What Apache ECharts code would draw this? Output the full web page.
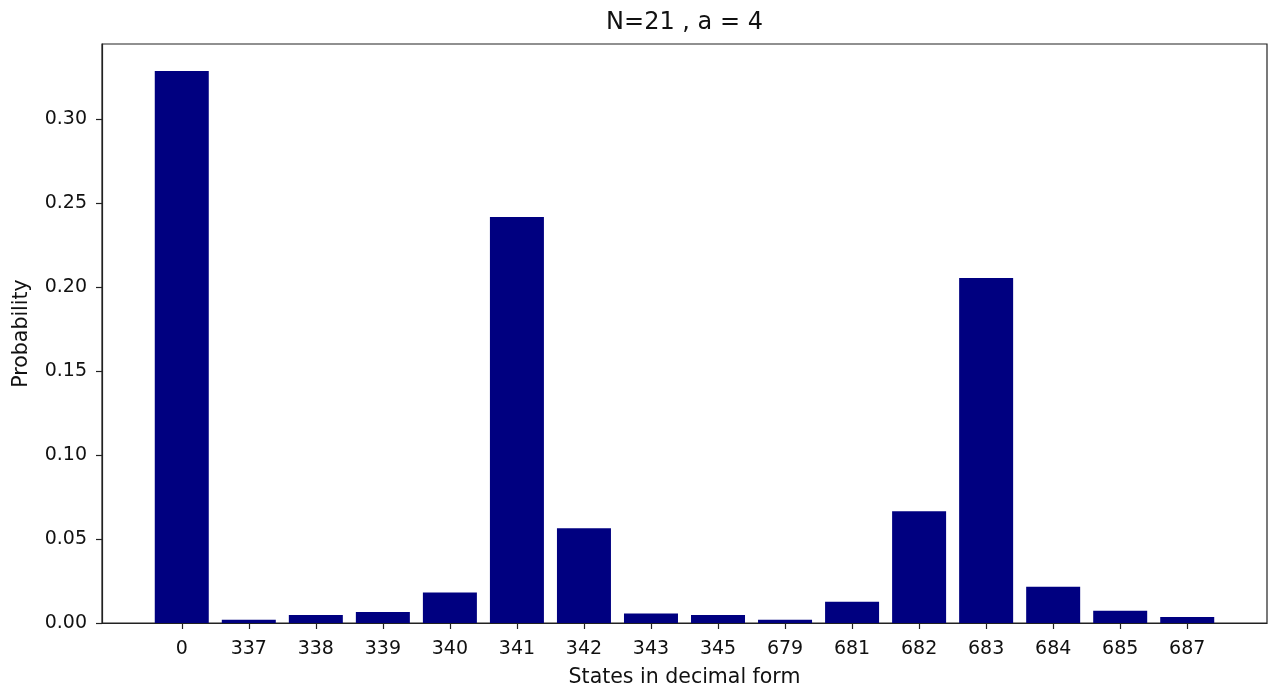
<!DOCTYPE html>
<html>
<head>
<meta charset="utf-8">
<script src="https://cdn.jsdelivr.net/npm/echarts@6/dist/echarts.min.js"></script>
<style>
html,body{margin:0;padding:0;background:#fff;}
#chart{width:1272px;height:695px;}
</style>
</head>
<body>
<div id="chart"></div>
<script>
const states = ['0','337','338','339','340','341','342','343','345','679','681','682','683','684','685','687'];
const probabilities = [0.3288,0.0020,0.0048,0.0066,0.0181,0.2419,0.0564,0.0056,0.0048,0.0020,0.0127,0.0665,0.2055,0.0216,0.0073,0.0036];
const yTicks = [0,0.05,0.10,0.15,0.20,0.25,0.30];
const titleText = 'N=21 , a = 4';
const xLabel = 'States in decimal form';
const yLabel = 'Probability';

const n = states.length;
const xPad = 0.05 * ((n - 1 + 0.4) - (-0.4));
const xMin = -0.4 - xPad, xMax = n - 1 + 0.4 + xPad;
const yMax = 0.3288 * 1.049;
const idx = states.map((s, i) => i);
const font = 'DejaVu Sans';
const chart = echarts.init(document.getElementById('chart'));
chart.setOption({
  animation: false,
  backgroundColor: '#fff',
  textStyle: {fontFamily: font},
  graphic: [{
    type: 'text', x: 684.5, y: 23,
    style: {text: titleText, font: '24px "DejaVu Sans"', fill: '#111', textAlign: 'center', textVerticalAlign: 'middle'}
  }],
  grid: {left: 102, right: 5, top: 44, bottom: 72, show: true, borderColor: '#222', borderWidth: 1.2, backgroundColor: 'transparent'},
  xAxis: {
    type: 'value', min: xMin, max: xMax,
    name: xLabel, nameLocation: 'middle', nameGap: 44,
    nameTextStyle: {fontSize: 20.5, color: '#111', fontFamily: font},
    axisLine: {show: true, onZero: false, lineStyle: {color: '#222', width: 1.2}},
    axisTick: {show: true, length: 6, customValues: idx, lineStyle: {color: '#222', width: 1.2}},
    axisLabel: {customValues: idx, formatter: v => states[Math.round(v)], fontSize: 19, color: '#111', margin: 17, fontFamily: font},
    splitLine: {show: false}
  },
  yAxis: {
    type: 'value', min: 0, max: yMax,
    name: yLabel, nameLocation: 'middle', nameGap: 70, nameRotate: 90,
    nameTextStyle: {fontSize: 20.5, color: '#111', fontFamily: font},
    axisLine: {show: true, onZero: false, lineStyle: {color: '#222', width: 1.2}},
    axisTick: {show: true, length: 6, customValues: yTicks, lineStyle: {color: '#222', width: 1.2}},
    axisLabel: {customValues: yTicks, formatter: v => v.toFixed(2), fontSize: 19, color: '#111', margin: 15, fontFamily: font},
    splitLine: {show: false}
  },
  series: [{
    type: 'bar',
    barWidth: 54,
    itemStyle: {color: '#000080'},
    data: probabilities.map((v, i) => [i, v])
  }]
});
</script>
</body>
</html>
